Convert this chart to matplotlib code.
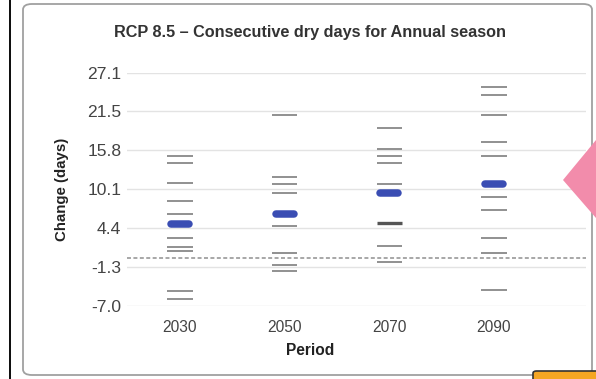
import matplotlib
matplotlib.use("Agg")
import matplotlib.pyplot as plt
from matplotlib.patches import FancyBboxPatch, Polygon, Rectangle

plt.rcParams['font.family'] = ['Liberation Sans', 'DejaVu Sans']

# Periods and projected change in consecutive dry days (days) for each model run
periods = ['2030', '2050', '2070', '2090']
runs_2030 = [15.0, 14.0, 11.0, 8.4, 6.4, 3.0, 1.6, 1.0, -4.8, -6.0]
runs_2050 = [20.9, 11.9, 10.9, 9.6, 4.7, 0.7, -1.0, -1.9]
runs_2070 = [19.0, 16.0, 15.0, 14.0, 10.9, 1.8, -0.6]
runs_2090 = [25.0, 23.9, 20.9, 17.0, 15.0, 9.0, 7.05, 3.0, 0.8, -4.6]
ensemble_mean = [5.0, 6.4, 9.5, 10.9]
selected_run = [None, None, 5.1, None]

y_ticks = [-7.0, -1.3, 4.4, 10.1, 15.8, 21.5, 27.1]
y_tick_labels = ['-7.0', '-1.3', '4.4', '10.1', '15.8', '21.5', '27.1']

W, H = 596, 379
fig = plt.figure(figsize=(W / 100, H / 100), dpi=100)
fig.patch.set_facecolor('white')

# page decorations around the chart panel
fig.add_artist(Rectangle((9 / W, 0), 2.2 / W, 1, transform=fig.transFigure,
                         color='#111111', lw=0, zorder=-2))
fig.add_artist(FancyBboxPatch((23 / W, 4 / H), (592 - 23) / W, (375 - 4) / H,
                              boxstyle='round,pad=0,rounding_size=0.015',
                              transform=fig.transFigure, facecolor='white',
                              edgecolor='#a0a0a0', lw=1.3, zorder=-2))
fig.add_artist(Polygon([(563 / W, 1 - 180 / H), (596 / W, 1 - 140 / H),
                        (596 / W, 1 - 218 / H)], closed=True,
                       transform=fig.transFigure, facecolor='#f28cab', lw=0,
                       zorder=5))
fig.add_artist(FancyBboxPatch((533 / W, -6 / H), 70 / W, 14 / H,
                              boxstyle='round,pad=0,rounding_size=0.006',
                              transform=fig.transFigure, facecolor='#f5a623',
                              edgecolor='#333333', lw=1.2, zorder=5))

ax = fig.add_axes([127 / W, (H - 306) / H, (586 - 127) / W, (306 - 73) / H])
ax.set_facecolor('none')
ax.set_xlim(-0.506, 3.879)
ax.set_ylim(-7.0, 27.1)

for s in ax.spines.values():
    s.set_visible(False)

ax.set_yticks(y_ticks)
ax.set_yticklabels(y_tick_labels)
ax.set_xticks(range(len(periods)))
ax.set_xticklabels(periods)
ax.tick_params(axis='y', length=0, pad=4, labelsize=12.6, labelcolor='#444444')
ax.tick_params(axis='x', length=0, pad=10, labelsize=11.2, labelcolor='#444444')
ax.grid(axis='y', color='#e3e3e3', lw=1.0)
ax.set_axisbelow(True)

# zero reference line
ax.axhline(0, color='#8f8f8f', lw=1.1, ls=(0, (2.6, 1.6)), zorder=1)

all_runs = [runs_2030, runs_2050, runs_2070, runs_2090]
half = 0.12
for i, vals in enumerate(all_runs):
    ax.hlines(vals, i - half, i + half, colors='#7e7e7e', lw=1.2, zorder=2)
    if selected_run[i] is not None:
        ax.hlines(selected_run[i], i - half, i + half, colors='#555555',
                  lw=2.4, zorder=3)
    ax.plot([i - 0.086, i + 0.086], [ensemble_mean[i]] * 2, color='#3a4db3',
            lw=5.4, solid_capstyle='round', zorder=4)

ax.set_title('RCP 8.5 – Consecutive dry days for Annual season',
             fontsize=11.7, fontweight='bold', color='#333333', pad=26,
             x=(310 - 127) / (586 - 127))
ax.set_xlabel('Period', fontsize=11.2, fontweight='bold', color='#222222',
              labelpad=6, x=(310 - 127) / (586 - 127))
ax.set_ylabel('Change (days)', fontsize=10.8, fontweight='bold',
              color='#222222', labelpad=13)

fig.savefig('out.png', dpi=100, facecolor='white')
